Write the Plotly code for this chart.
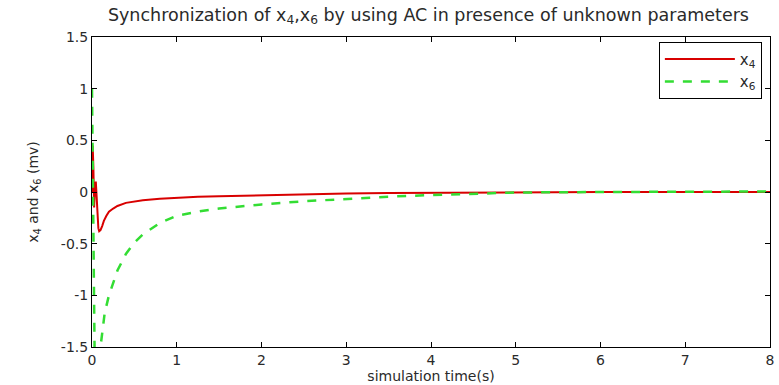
import plotly.graph_objects as go

t_x4 = [0, 0.008, 0.016, 0.025, 0.035, 0.045, 0.055, 0.065, 0.075, 0.085, 0.1, 0.12, 0.14, 0.17, 0.2, 0.25,
        0.3, 0.4, 0.5, 0.6, 0.8, 1.0, 1.25, 1.5, 2.0, 2.5, 3.0, 3.5, 4.0, 4.5, 5.0, 6.0, 7.0, 8.0]
x4 = [0.0, 0.45, 0.25, -0.15, 0.05, 0.1, -0.05, -0.25, -0.35, -0.38, -0.37, -0.33, -0.28, -0.23, -0.19, -0.16,
      -0.135, -0.105, -0.09, -0.08, -0.065, -0.055, -0.045, -0.04, -0.03, -0.02, -0.015, -0.01, -0.007, -0.004,
      -0.002, 0.0, 0.0, 0.0]

t_x6 = [0, 0.005, 0.01, 0.015, 0.02, 0.03, 0.05, 0.08, 0.1, 0.12, 0.15, 0.2, 0.25, 0.3, 0.4, 0.5, 0.6, 0.8,
        1.0, 1.25, 1.5, 2.0, 2.5, 3.0, 3.5, 4.0, 4.5, 5.0, 6.0, 7.0, 8.0]
x6 = [1.0, 0.6, 0.0, -0.6, -1.1, -1.5, -1.7, -1.65, -1.5, -1.35, -1.17, -1.0, -0.87, -0.76, -0.6, -0.49, -0.41,
      -0.3, -0.23, -0.19, -0.16, -0.12, -0.09, -0.065, -0.045, -0.03, -0.015, -0.005, 0.0, 0.005, 0.005]

x_ticks = [0, 1, 2, 3, 4, 5, 6, 7, 8]
y_ticks = [-1.5, -1, -0.5, 0, 0.5, 1, 1.5]
y_ticktext = ["-1.5", "-1", "-0.5", "0", "0.5", "1", "1.5"]

font = "DejaVu Sans, Verdana, sans-serif"
txt = "#2a2a2a"

fig = go.Figure()
fig.add_trace(go.Scatter(x=t_x4, y=x4, mode="lines", name="x<sub>4</sub>",
                         line=dict(color="#d80000", width=2)))
fig.add_trace(go.Scatter(x=t_x6, y=x6, mode="lines", name="x<sub>6</sub>",
                         line=dict(color="#33dd33", width=2.5, dash="dash")))

axis_common = dict(showgrid=False, zeroline=False, showline=True, linecolor="black", linewidth=1,
                   mirror="ticks", ticks="inside", ticklen=5, tickcolor="black",
                   tickfont=dict(family=font, size=14, color=txt))

fig.update_layout(
    width=779, height=385,
    margin=dict(l=92, r=5, t=37, b=38),
    paper_bgcolor="white", plot_bgcolor="white",
    title=dict(text="Synchronization of x<sub>4</sub>,x<sub>6</sub> by using AC in presence of unknown parameters",
               x=0.55, xanchor="center", y=0.978, yanchor="top",
               font=dict(family=font, size=17.5, color=txt)),
    xaxis=dict(range=[0, 8], tickvals=x_ticks,
               title=dict(text="simulation time(s)", font=dict(family=font, size=14, color=txt), standoff=0),
               **axis_common),
    yaxis=dict(range=[-1.5, 1.5], tickvals=y_ticks, ticktext=y_ticktext,
               title=dict(text="x<sub>4</sub> and x<sub>6</sub> (mv)", font=dict(family=font, size=14, color=txt),
                          standoff=18),
               **axis_common),
    legend=dict(x=0.988, y=0.985, xanchor="right", yanchor="top", bgcolor="white",
                bordercolor="black", borderwidth=1, font=dict(family=font, size=15, color=txt),
                itemwidth=70, tracegroupgap=2),
    showlegend=True,
)

fig.write_html("out.html")
